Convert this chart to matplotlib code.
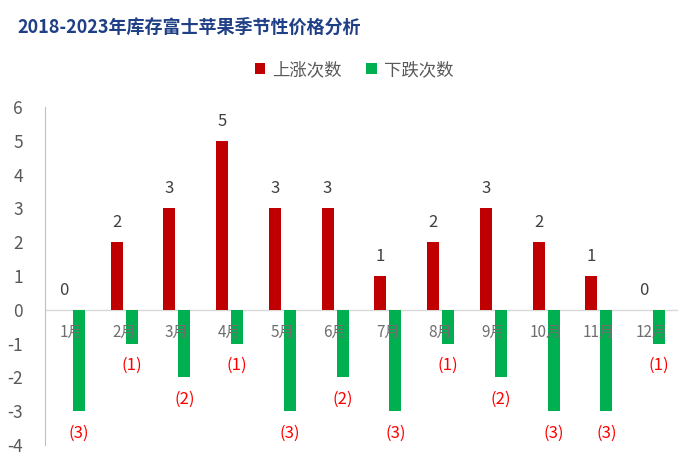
import matplotlib
matplotlib.use("Agg")
import matplotlib.pyplot as plt
import numpy as np

plt.rcParams['font.family'] = ['Noto Sans CJK SC', 'DejaVu Sans']

months = ["1月", "2月", "3月", "4月", "5月", "6月", "7月", "8月", "9月", "10月", "11月", "12月"]
up_counts = [0, 2, 3, 5, 3, 3, 1, 2, 3, 2, 1, 0]
down_counts = [-3, -1, -2, -1, -3, -2, -3, -1, -2, -3, -3, -1]
y_ticks = [-4, -3, -2, -1, 0, 1, 2, 3, 4, 5, 6]

red = "#C00000"
green = "#00B050"

fig = plt.figure(figsize=(7, 4.69), dpi=100)
ax = fig.add_axes([45/700, 1 - 445/469, 633/700, 338/469])

x = np.arange(len(months))
w = 0.23
off = 0.143
ax.bar(x - off, up_counts, width=w, color=red, label="上涨次数", zorder=2)
ax.bar(x + off, down_counts, width=w, color=green, label="下跌次数", zorder=2)

ax.set_xlim(-0.5, len(months) - 0.5)
ax.set_ylim(-4, 6)
ax.set_yticks(y_ticks)
ax.set_yticklabels([str(t) for t in y_ticks], fontsize=12.5, color="#595959")
ax.tick_params(axis='y', length=0, pad=16)
ax.set_xticks([])
for s in ["top", "right", "bottom"]:
    ax.spines[s].set_visible(False)
ax.spines["left"].set_color("#BFBFBF")
ax.axhline(0, color="#D9D9D9", lw=1, zorder=1)

for i, m in enumerate(months):
    ax.annotate(m, (i, 0), xytext=(0, -16), textcoords="offset points",
                ha="center", va="center", fontsize=11, color="#6E6E6E", zorder=5)

for i, v in enumerate(up_counts):
    ax.annotate(str(v), (i - off, v), xytext=(0, 14), textcoords="offset points",
                ha="center", va="center", fontsize=12, color="#404040", zorder=5)

for i, v in enumerate(down_counts):
    ax.annotate("(%d)" % (-v), (i + off, v), xytext=(0, -16), textcoords="offset points",
                ha="center", va="center", fontsize=12, color="#FF0000", zorder=5)

fig.text(17/700, 1 - 27/469, "2018-2023年库存富士苹果季节性价格分析", fontsize=13,
         fontweight="bold", color="#1F3F86", ha="left", va="center")

leg = fig.legend(loc="center", bbox_to_anchor=(354/700, 1 - 70/469), ncol=2, frameon=False,
                 fontsize=12.5, handlelength=0.6, handleheight=0.6, handletextpad=0.4,
                 columnspacing=1.4, labelcolor="#595959")

fig.savefig("out.png", dpi=100)
